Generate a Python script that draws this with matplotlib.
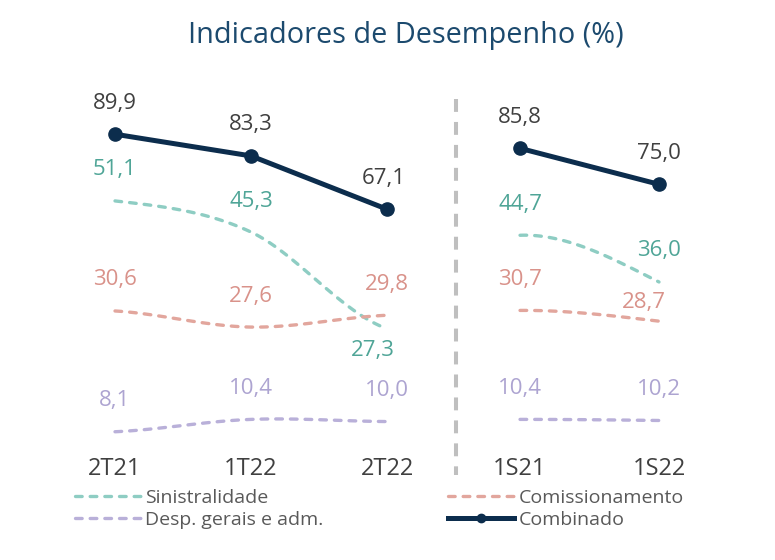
import matplotlib
matplotlib.use("Agg")
import matplotlib.pyplot as plt
from matplotlib.lines import Line2D
import numpy as np

plt.rcParams['font.family'] = ['Open Sans', 'DejaVu Sans']

# data
cats_tri = ['2T21', '1T22', '2T22']
cats_sem = ['1S21', '1S22']

sin_tri = [51.1, 45.3, 27.3]
com_tri = [30.6, 27.6, 29.8]
desp_tri = [8.1, 10.4, 10.0]
comb_tri = [89.9, 83.3, 67.1]

sin_sem = [44.7, 36.0]
com_sem = [30.7, 28.7]
desp_sem = [10.4, 10.2]
comb_sem = [85.8, 75.0]

# colours
c_sin, t_sin = '#8ecdc3', '#4fa597'
c_com, t_com = '#e2a69d', '#d9928a'
c_desp, t_desp = '#b9b0d9', '#ada4d1'
c_comb, t_comb = '#0c2d4d', '#404040'


def smooth(y, m0=None, m1=None, n=50):
    # excel-like smoothed line (cubic hermite, catmull-rom tangents)
    y = np.asarray(y, float)
    yp = np.concatenate([[y[0]], y, [y[-1]]])
    m = (yp[2:] - yp[:-2]) / 2
    if m0 is not None:
        m[0] = m0 * (y[1] - y[0])
    if m1 is not None:
        m[-1] = m1 * (y[-1] - y[-2])
    t = np.linspace(0, 1, n)
    h00 = 2*t**3 - 3*t**2 + 1
    h10 = t**3 - 2*t**2 + t
    h01 = -2*t**3 + 3*t**2
    h11 = t**3 - t**2
    xs, ys = [], []
    for i in range(len(y) - 1):
        xs.append(i + t)
        ys.append(h00*y[i] + h10*m[i] + h01*y[i+1] + h11*m[i+1])
    return np.concatenate(xs), np.concatenate(ys)


fig = plt.figure(figsize=(7.75, 5.6), dpi=100)
W, H = 775, 560

def px_axes(x0, x1, y0=100, y1=450):
    return fig.add_axes([x0/W, 1 - y1/H, (x1 - x0)/W, (y1 - y0)/H])

dash_kw = dict(lw=2.4, dashes=(2.0, 2.4), dash_capstyle='round')

def label(ax, x, v, color, dx=0, dy=31):
    ax.annotate(f'{v:.1f}'.replace('.', ','), (x, v), xytext=(dx, dy),
                textcoords='offset pixels', ha='center', va='center',
                fontsize=16, color=color)

def panel(x0, x1, xlim, cats, sin, com, desp, comb, ylim_main, sem=False,
          offsets=None):
    ax = px_axes(x0, x1)
    ax2 = ax.twinx()
    ax.set_xlim(*xlim)
    ax.set_ylim(*ylim_main)
    ax2.set_ylim(4.7, 69.9)
    kw = dict(m0=-0.12, m1=1.5) if sem else {}
    for vals, c in [(sin, c_sin), (com, c_com), (desp, c_desp)]:
        xs, ys = smooth(vals, **kw)
        ax2.plot(xs, ys, color=c, **dash_kw)
    x = np.arange(len(cats))
    ax.plot(x, comb, color=c_comb, lw=3.6, marker='o', markersize=9.5,
            zorder=5)
    offsets = offsets or {}
    for vals, c, a, key in [(sin, t_sin, ax2, 'sin'), (com, t_com, ax2, 'com'),
                            (desp, t_desp, ax2, 'desp'), (comb, t_comb, ax, 'comb')]:
        for i, v in enumerate(vals):
            dx, dy = offsets.get((key, i), (0, 31))
            label(a, i, v, c, dx, dy)
    ax.set_xticks(x, cats)
    ax.tick_params(axis='x', length=0, pad=5, labelsize=17, labelcolor='#404040')
    ax.tick_params(axis='y', left=False, labelleft=False)
    ax2.tick_params(axis='y', right=False, labelright=False)
    for a in (ax, ax2):
        for s in a.spines.values():
            s.set_visible(False)
        a.patch.set_visible(False)
    return ax


panel(47, 455, (-0.5, 2.5), cats_tri, sin_tri, com_tri, desp_tri, comb_tri,
      (-6.1, 100.3), offsets={('sin', 2): (-14, -22), ('comb', 2): (-3, 31)})
panel(455, 720, (-0.468, 1.439), cats_sem, sin_sem, com_sem, desp_sem, comb_sem,
      (-4.7, 100.3), sem=True, offsets={('com', 1): (-15, 19)})

# separator
fig.add_artist(Line2D([455.5/W, 455.5/W], [1 - 99/H, 1 - 475/H], color='#bfbfbf',
                      lw=2.9, dashes=(3.2, 2.5)))

fig.text(406/W, 1 - 36/H, 'Indicadores de Desempenho (%)', ha='center',
         va='center', fontsize=20.8, color='#1c4a6e')

# legend
h_sin = Line2D([], [], color=c_sin, **dash_kw)
h_desp = Line2D([], [], color=c_desp, **dash_kw)
h_com = Line2D([], [], color=c_com, **dash_kw)
h_comb = Line2D([], [], color=c_comb, lw=3.6, marker='o', markersize=6)
leg_kw = dict(frameon=False, fontsize=14, handlelength=3.4, handletextpad=0.22,
              labelspacing=0.22, labelcolor='#595959', borderpad=0,
              borderaxespad=0, loc='upper left')
fig.legend([h_sin, h_desp], ['Sinistralidade', 'Desp. gerais e adm.'],
           bbox_to_anchor=(75/W, 1 - 489/H), **leg_kw)
fig.legend([h_com, h_comb], ['Comissionamento', 'Combinado'],
           bbox_to_anchor=(448/W, 1 - 489/H), **leg_kw)

fig.savefig('out.png', dpi=100)
